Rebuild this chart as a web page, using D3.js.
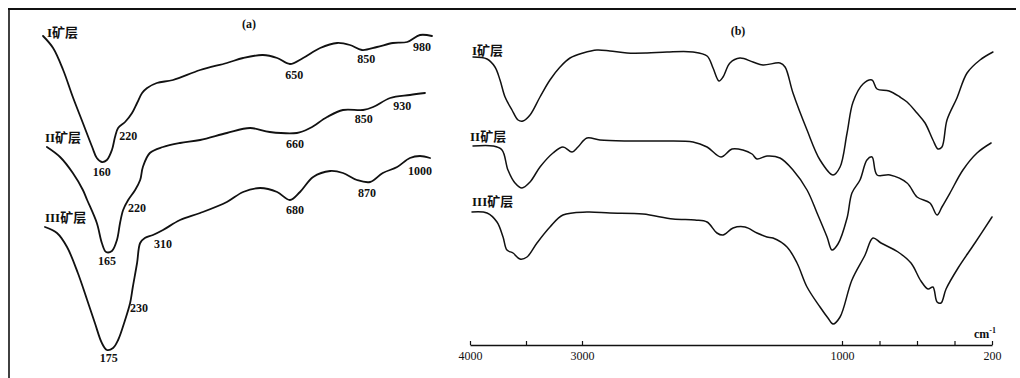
<!DOCTYPE html>
<html>
<head>
<meta charset="utf-8">
<script src="https://cdn.jsdelivr.net/npm/d3@7"></script>
<style>
  body { margin: 0; background: #fff; }
  svg { display: block; }
  .curve { fill: none; stroke: #111; stroke-linejoin: round; stroke-linecap: round; }
  .peak { font-family: 'Liberation Serif', 'DejaVu Serif', serif; font-size: 12px; font-weight: bold; fill: #111; }
  .name { font-family: 'Liberation Serif', 'Noto Sans CJK SC', serif; font-size: 13px; font-weight: bold; fill: #111; }
</style>
</head>
<body>
<svg id="chart" width="1020" height="378"></svg>
<script>
// (a) thermal curves: [temperature °C, signal]
const dtaI = [[13,334],[39,322],[65,300],[90,273],[116,247],[140,223],[152,212],[165,208],[178,210],
  [191,220],[199,233],[207,242],[225,248],[243,257],[256,267],[269,277],[282,282],[307,287],[349,290],
  [419,300],[488,307],[530,312],[581,315],[618,312],[651,306],[685,312],[729,322],[773,327],[806,325],
  [837,320],[876,323],[917,327],[954,328],[987,335],[1018,334]];
const dtaII = [[23,223],[57,213],[90,197],[116,180],[127,170],[152,147],[165,127],[176,118],[191,119],
  [204,130],[212,147],[220,160],[233,170],[251,180],[264,190],[271,203],[289,217],[323,223],[367,227],
  [419,230],[488,237],[548,242],[599,238],[669,237],[703,242],[747,253],[788,260],[840,260],[866,263],
  [910,272],[961,275],[1000,277]];
const dtaIII = [[18,143],[49,137],[75,123],[103,97],[127,70],[147,47],[165,27],[178,20],[194,22],
  [207,30],[225,50],[238,67],[245,83],[256,107],[264,127],[276,132],[297,135],[323,140],[367,150],
  [419,157],[488,168],[530,178],[574,182],[618,178],[651,170],[677,178],[711,193],[755,199],[788,197],
  [824,190],[858,188],[891,197],[928,203],[961,212],[987,214],[1013,212]];

// peak labels of (a): [text, temperature, signal] where the text sits
const peaksI = [["160",165,194],["220",233,230],["650",662,291],["850",848,307],["980",992,319]];
const peaksII = [["165",178,105],["220",256,158],["660",664,222],["850",842,247],["930",941,260]];
const peaksIII = [["175",183,8],["230",261,58],["310",323,122],["680",664,156],["870",850,173],["1000",987,195]];

// (b) infrared spectra: [wavenumber cm-1, transmittance]
const irI = [[3973,313],[3848,311],[3777,303],[3732,290],[3687,273],[3625,260],[3571,250],[3527,249],
  [3464,255],[3375,273],[3286,290],[3196,303],[3107,312],[2992,317],[2885,320],[2785,319],[2654,317],
  [2500,317],[2346,318],[2146,318],[2038,314],[1992,302],[1946,289],[1915,293],[1862,307],[1785,312],
  [1685,308],[1608,305],[1477,307],[1438,303],[1377,277],[1269,240],[1169,210],[1069,195],[1015,203],
  [973,237],[941,268],[888,286],[840,290],[813,281],[749,279],[691,273],[653,268],[600,257],[557,247],
  [515,230],[488,221],[467,223],[440,250],[387,272],[333,297],[264,310],[195,318]];
const irII = [[3973,224],[3795,224],[3714,220],[3661,200],[3598,187],[3536,182],[3464,188],[3375,203],
  [3259,217],[3170,223],[3089,218],[3036,223],[2962,232],[2862,230],[2654,229],[2400,229],[2146,228],
  [2038,223],[1931,213],[1846,221],[1762,220],[1692,216],[1654,211],[1577,214],[1477,212],[1377,200],
  [1269,180],[1192,157],[1115,133],[1077,120],[1031,126],[973,152],[947,177],[904,190],[867,210],
  [840,213],[813,195],[744,195],[653,187],[600,173],[531,167],[493,155],[467,163],[424,177],[355,200],
  [280,217],[205,227]];
const irIII = [[3982,158],[3848,157],[3759,148],[3705,133],[3670,120],[3616,117],[3554,111],[3491,113],
  [3402,127],[3286,143],[3170,155],[2962,158],[2785,157],[2531,156],[2300,151],[2131,150],[2038,148],
  [1962,137],[1915,135],[1838,142],[1746,143],[1654,137],[1577,133],[1531,132],[1423,123],[1346,107],
  [1269,83],[1169,63],[1108,52],[1069,46],[1015,53],[947,90],[877,115],[835,132],[792,127],[701,118],
  [632,107],[579,89],[541,81],[515,83],[493,68],[472,67],[445,81],[381,102],[291,127],[200,153]];

const irTicks = [4000, 3500, 3000, 1000, 800, 600, 400, 200];
const irTickLabels = [4000, 3000, 1000, 200];
const layerNames = ["I矿层", "II矿层", "III矿层"];

const svg = d3.select("#chart");

const yVal = d3.scaleLinear().domain([0, 360]).range([370, 10]);
const xTemp = d3.scaleLinear().domain([0, 1000]).range([38, 425]);
// the spectrometer chart changes scale along the axis
const xWave = d3.scaleLinear().domain([4000, 3000, 1000, 200]).range([470, 582, 842, 992]);

// frame of the scanned plate
svg.append("line").attr("x1", 8).attr("y1", 9).attr("x2", 1016).attr("y2", 9)
  .attr("stroke", "#111").attr("stroke-width", 2);
svg.append("line").attr("x1", 9).attr("y1", 9).attr("x2", 9).attr("y2", 378)
  .attr("stroke", "#111").attr("stroke-width", 1.6);

function drawCurve(data, xs, width) {
  const line = d3.line()
    .x(d => xs(d[0]))
    .y(d => yVal(d[1]))
    .curve(d3.curveCatmullRom.alpha(0.5));
  svg.append("path").datum(data).attr("class", "curve")
    .attr("stroke-width", width).attr("d", line);
}

// panel (a)
[dtaI, dtaII, dtaIII].forEach(c => drawCurve(c, xTemp, 1.8));

[peaksI, peaksII, peaksIII].forEach(list => {
  svg.append("g").selectAll("text").data(list).join("text")
    .attr("class", "peak")
    .attr("text-anchor", "middle")
    .attr("x", d => xTemp(d[1]))
    .attr("y", d => yVal(d[2]))
    .text(d => d[0]);
});

// name of each layer sits just above the start of its curve
const nameShiftA = [[4, 1], [-2, -5], [0, -5]];
[dtaI, dtaII, dtaIII].forEach((c, i) => {
  svg.append("text").attr("class", "name")
    .attr("x", xTemp(c[0][0]) + nameShiftA[i][0])
    .attr("y", yVal(c[0][1]) + nameShiftA[i][1])
    .text(layerNames[i]);
});

svg.append("text").attr("class", "peak").attr("text-anchor", "middle")
  .attr("x", 249).attr("y", 28).text("(a)");

// panel (b)
[irI, irII, irIII].forEach(c => drawCurve(c, xWave, 1.5));

const nameShiftB = [[-1, -2], [-3, -5], [0, -6]];
[irI, irII, irIII].forEach((c, i) => {
  svg.append("text").attr("class", "name")
    .attr("x", xWave(c[0][0]) + nameShiftB[i][0])
    .attr("y", yVal(c[0][1]) + nameShiftB[i][1])
    .text(layerNames[i]);
});

const axis = d3.axisBottom(xWave)
  .tickValues(irTicks)
  .tickFormat(d => irTickLabels.includes(d) ? d : "")
  .tickSizeInner(-4)
  .tickSizeOuter(0)
  .tickPadding(6);

const gx = svg.append("g").attr("transform", "translate(0,345)").call(axis);
gx.select(".domain").attr("stroke", "#111").attr("stroke-width", 1.6);
gx.selectAll(".tick line").attr("stroke", "#111").attr("stroke-width", 1.2);
gx.selectAll(".tick text")
  .attr("fill", "#111")
  .attr("font-family", "'Liberation Serif', 'DejaVu Serif', serif")
  .attr("font-size", 12);

const unit = svg.append("text").attr("class", "peak").attr("x", 974).attr("y", 338);
unit.append("tspan").text("cm");
unit.append("tspan").attr("dy", -5).attr("font-size", 8).text("-1");

svg.append("text").attr("class", "peak").attr("text-anchor", "middle")
  .attr("x", 738).attr("y", 35).text("(b)");
</script>
</body>
</html>
